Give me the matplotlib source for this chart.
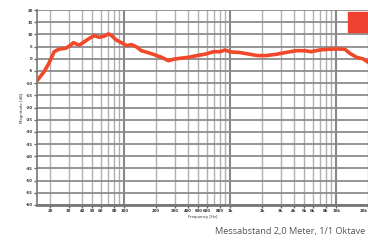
import numpy as np
import matplotlib.pyplot as plt
from matplotlib.patches import Rectangle

# frequency response
freq = [15.2, 17.5, 19.4, 21.8, 24.1, 28, 31.3, 33, 37.6, 42, 47, 52, 58, 65, 71, 75,
        84, 94, 105, 117, 130, 145, 168, 188, 202, 225, 261, 291, 337, 404, 485,
        582, 700, 808, 890, 1000, 1210, 1510, 1810, 2170, 2700, 3370, 4190, 5030,
        5820, 7000, 8400, 10100, 12100, 13500, 15600, 18100, 20000]
level = [-8.7, -5.3, -1.9, 2.9, 3.9, 4.3, 5.6, 6.6, 5.6, 7.0, 8.4, 9.5, 8.8, 9.3, 10.2, 9.7,
         7.7, 6.6, 5.4, 5.8, 4.9, 3.3, 2.5, 1.8, 1.3, 0.6, -0.8, -0.2, 0.2, 0.6, 1.3,
         1.9, 2.9, 2.9, 3.6, 2.8, 2.6, 1.9, 1.3, 1.3, 1.8, 2.6, 3.3, 3.3,
         2.9, 3.6, 3.9, 4.0, 3.9, 2.2, 0.6, -0.1, -1.4]

y_ticks = list(range(20, -65, -5))
x_ticks = [20, 30, 40, 50, 60, 80, 100, 200, 300, 400, 500, 600, 800, 1000,
           2000, 3000, 4000, 5000, 6000, 8000, 10000, 20000]
x_labels = ['20', '30', '40', '50', '60', '80', '100', '200', '300', '400', '500', '600',
            '800', '1k', '2k', '3k', '4k', '5k', '6k', '8k', '10k', '20k']

fig = plt.figure(figsize=(3.68, 2.46), dpi=100)
ax = fig.add_axes([37 / 368, 1 - 205 / 246, 331 / 368, 195 / 246])

# grid
for f in [10 ** d * m for d in range(1, 5) for m in range(1, 10)]:
    if 15 < f <= 20000:
        major = f in (100, 1000, 10000)
        ax.axvline(f, color='#888888' if major else '#b0b0b0',
                   lw=1.5 if major else 1.0, zorder=1)
for v in y_ticks:
    ax.axhline(v, color='#8c8c8c', lw=1.3, zorder=1)

ax.plot(freq, level, color='#f2482a', lw=2.6, zorder=3)

ax.set_xscale('log')
ax.set_xlim(15, 20000)
ax.set_ylim(-60, 20)
ax.set_yticks(y_ticks)
ax.set_yticklabels([str(v) for v in y_ticks], fontsize=2.8, color='#333', weight='bold')
ax.set_xticks(x_ticks)
ax.set_xticklabels(x_labels, fontsize=2.8, color='#333', weight='bold')
ax.get_xticklabels()[-1].set_ha('right')
ax.minorticks_off()
ax.tick_params(length=2, width=1, color='#666', pad=1)
ax.set_xlabel('Frequency [Hz]', fontsize=2.8, color='#333', labelpad=1)
ax.set_ylabel('Magnitude [dB]', fontsize=2.8, color='#333', labelpad=1)

for s in ['top', 'right']:
    ax.spines[s].set_visible(False)
ax.spines['left'].set_color('#777')
ax.spines['left'].set_linewidth(1.2)
ax.spines['bottom'].set_color('#777')
ax.spines['bottom'].set_linewidth(2)

# logo box
ax.add_patch(Rectangle((0.94, 0.887), 0.065, 0.103, transform=ax.transAxes,
                       color='#f04030', zorder=4, clip_on=False))

fig.text(0.992, 0.06, 'Messabstand 2,0 Meter, 1/1 Oktave', ha='right', va='center',
         fontsize=6.6, color='#555', family='Open Sans')

fig.savefig('out.png', dpi=100)
